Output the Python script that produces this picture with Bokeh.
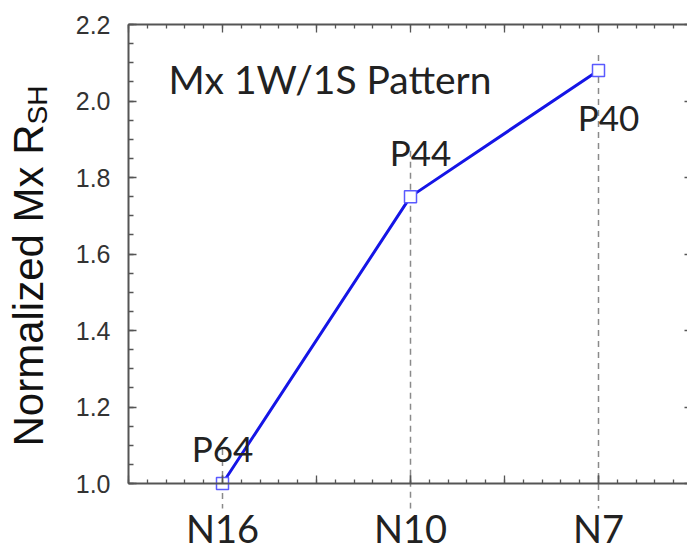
import math
from bokeh.plotting import figure
from bokeh.models import (Range1d, LinearAxis, FixedTicker, Label, Arrow,
                          ColumnDataSource, PrintfTickFormatter)
from bokeh.embed import file_html
from bokeh.resources import INLINE

# ---- data ----
nodes = ["N16", "N10", "N7"]
node_pos = [1, 2, 3]
rsh = [1.00, 1.75, 2.08]
pitch_labels = ["P64", "P44", "P40"]
guide_top = [1.09, 1.87, 2.12]
y_ticks = [1.0, 1.2, 1.4, 1.6, 1.8, 2.0, 2.2]
x_major = [0.5, 1.0, 1.5, 2.0, 2.5, 3.0, 3.5]
x_minor = [round(0.5 + 0.1 * i, 2) for i in range(31)]
y_minor = [round(1.0 + 0.05 * i, 3) for i in range(25)]

# ---- layout (canvas = plot frame; axes drawn at fixed locations) ----
W, H = 687, 549
X0, X1 = 0.5, 3.5           # box x extent (data)
Y0, Y1 = 1.0, 2.2           # box y extent (data)
BOX_LEFT, PX_X = 128, 188   # pixel of X0, pixels per x unit
BOX_TOP, BOX_BOTTOM = 24, 483
PX_Y = (BOX_BOTTOM - BOX_TOP) / (Y1 - Y0)
xs = X0 - BOX_LEFT / PX_X
ys = Y0 - (H - BOX_BOTTOM) / PX_Y

AX = "#555555"
TXT = "#222222"

p = figure(width=W, height=H, output_backend="svg", toolbar_location=None,
           x_range=Range1d(xs, xs + W / PX_X), y_range=Range1d(ys, ys + H / PX_Y),
           min_border=0, x_axis_location=None, y_axis_location=None)
p.title.visible = False
p.outline_line_color = None
p.background_fill_color = "white"
p.border_fill_color = "white"
p.xgrid.visible = False
p.ygrid.visible = False


def axis(loc, bounds, ticks, minors, major_in, minor_in, line=True):
    ax = LinearAxis(fixed_location=loc, bounds=bounds,
                    ticker=FixedTicker(ticks=ticks, minor_ticks=minors))
    ax.axis_line_color = AX if line else None
    ax.axis_line_width = 2
    ax.major_tick_line_color = AX
    ax.major_tick_line_width = 1.5
    ax.minor_tick_line_color = AX
    ax.minor_tick_line_width = 1.3
    ax.major_tick_in = major_in
    ax.major_tick_out = 0
    ax.minor_tick_in = minor_in
    ax.minor_tick_out = 0
    return ax


# bottom: labelled categories + minor ticks, plus long ticks every half step
xb = axis(Y0, (X0, X1), node_pos, x_minor, 8, 4)
xb.major_label_overrides = {pos: name for pos, name in zip(node_pos, nodes)}
xb.major_label_text_font = "Lato"
xb.major_label_text_font_size = "38px"
xb.major_label_text_color = TXT
xb.major_label_standoff = 21
p.add_layout(xb, "below")
p.add_layout(axis(Y0, (X0, X1), [], x_major, 0, 8, line=False), "below")

# top
p.add_layout(axis(Y1, (X0, X1), [], x_minor, 0, 4), "above")
p.add_layout(axis(Y1, (X0, X1), [], x_major, 0, 8, line=False), "above")

# left
yl = axis(X0, (Y0, Y1), y_ticks, y_minor, 8, 5)
yl.formatter = PrintfTickFormatter(format="%.1f")
yl.major_label_text_font = "Liberation Sans"
yl.major_label_text_font_size = "25px"
yl.major_label_text_color = "#333333"
yl.major_label_standoff = 18
p.add_layout(yl, "left")

# right (its line falls just outside the picture)
p.add_layout(axis(X1, (Y0, Y1), [], y_minor, 0, 5), "right")
p.add_layout(axis(X1, (Y0, Y1), [], y_ticks, 0, 8, line=False), "right")

# dashed guide lines
for xp, top in zip(node_pos, guide_top):
    p.add_layout(Arrow(end=None, x_start=xp, y_start=top, x_end=xp,
                       y_end=Y0 - 25 / PX_Y,
                       line_color="#8a8a8a", line_width=1.5, line_dash="6 5",
                       level="underlay"))

src = ColumnDataSource(dict(x=node_pos, y=rsh))
p.line("x", "y", source=src, line_color="#1515e6", line_width=3)
p.scatter("x", "y", source=src, marker="square", size=12, fill_color="white",
          line_color="#5a5aff", line_width=1.5)

# point labels
offsets = [(0, 36), (10, 45), (10, -47)]
for xp, yv, lab, (dx, dy) in zip(node_pos, rsh, pitch_labels, offsets):
    p.add_layout(Label(x=xp, y=yv, x_offset=dx, y_offset=dy, text=lab,
                       text_align="center", text_baseline="alphabetic",
                       text_font="Lato", text_font_size="35px", text_color=TXT))

# in-plot title
p.add_layout(Label(x=168, y=H - 93 + 15, x_units="screen", y_units="screen",
                   text="Mx 1W/1S Pattern", text_font="Lato",
                   text_font_size="39px", text_color=TXT,
                   text_baseline="alphabetic"))

# y axis title with subscript
p.add_layout(Label(x=28, y=H - 446, x_units="screen", y_units="screen",
                   angle=math.pi / 2, text="Normalized Mx R",
                   text_align="left", text_baseline="alphabetic",
                   text_font="Liberation Sans", text_font_size="42px",
                   text_color="#111111"))
p.add_layout(Label(x=37, y=H - 446 + 322, x_units="screen", y_units="screen",
                   angle=math.pi / 2, text="SH",
                   text_align="left", text_baseline="alphabetic",
                   text_font="Liberation Sans", text_font_size="28px",
                   text_color="#111111"))

open("out.html", "w").write(file_html(p, INLINE))
